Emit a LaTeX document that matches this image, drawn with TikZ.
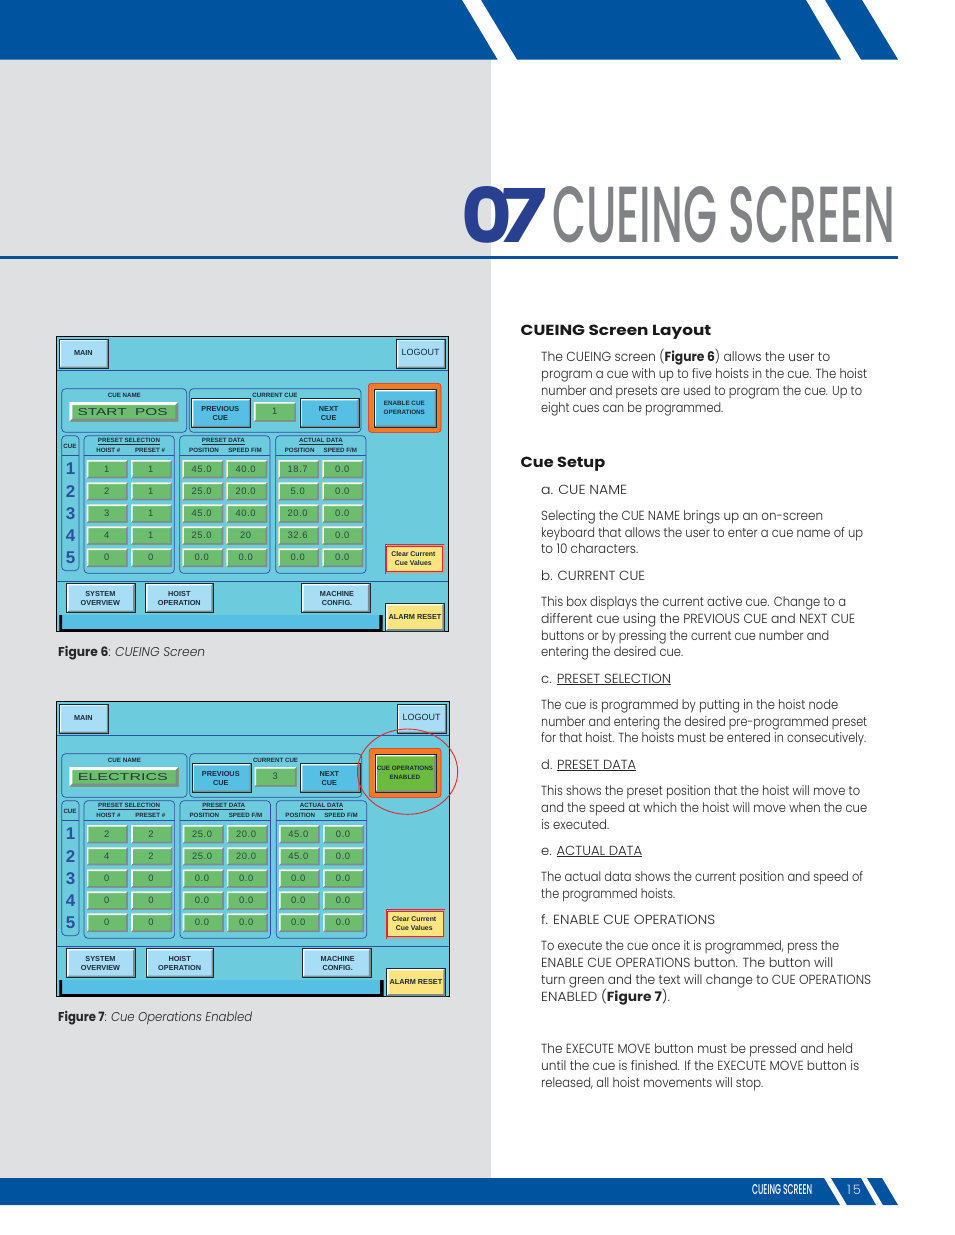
\documentclass[tikz,border=0pt]{standalone}
\usepackage{fontspec}
\usepackage{graphicx}
\setmainfont{Poppins}
\newfontfamily\bodyf{Poppins Light}
\newfontfamily\headf{Poppins Bold}
\newfontfamily\bigf{Poppins Medium}
\newfontfamily\blackf{Poppins Bold}
\newfontfamily\scrf{Liberation Sans}
\newfontfamily\scrl[LetterSpace=6]{Liberation Sans}
\definecolor{brand}{HTML}{00539F}
\definecolor{pagegrey}{HTML}{DFE0E2}
\definecolor{titlegrey}{HTML}{808285}
\definecolor{navy}{HTML}{28408F}
\definecolor{scrbg}{HTML}{6CCBDD}
\definecolor{scrline}{HTML}{2F4EA0}
\definecolor{pale}{HTML}{A8DEF5}
\definecolor{mid}{HTML}{56C0E4}
\definecolor{fieldg}{HTML}{6CBD6E}
\definecolor{onG}{HTML}{6BBB3F}
\definecolor{bevg}{HTML}{7F8C8C}
\definecolor{amber}{HTML}{FCE57F}
\definecolor{orangeb}{HTML}{F47B20}
\definecolor{redl}{HTML}{E8252E}
\definecolor{scrtext}{HTML}{1B2A38}
\newcounter{tl}
\newcommand\bl[3]{\stepcounter{tl}\node[bodyline] (line\arabic{tl}) at (541,#1+5) {\resizebox{\dimexpr #2pt-541pt\relax}{\height}{#3}};}
\newcommand\bev[6]{%
  \fill[#5] (#1,#2) rectangle (#3,#4);
  \fill[white] (#1,#2)--(#3,#2)--(#3-#6,#2+#6)--(#1+#6,#2+#6)--(#1+#6,#4-#6)--(#1,#4)--cycle;
  \fill[bevg] (#3,#4)--(#1,#4)--(#1+#6,#4-#6)--(#3-#6,#4-#6)--(#3-#6,#2+#6)--(#3,#2)--cycle;
}
\newcommand\btn[6]{% x1 y1 x2 y2 fill w (with outer dark edge)
  \bev{#1}{#2}{#3}{#4}{#5}{#6}
  \draw[scrtext,line width=.5pt] (#1,#2) rectangle (#3,#4);
}
\newcommand\screen[7]{% figure key, origin, xunit, name text, cue no, enable, cells
\begin{scope}[shift={#2},x=#3pt,y=-0.33333pt,name prefix=#1-]
  \fill[scrbg] (20,20) rectangle (1195,905);
  \draw[scrline,line width=1pt] (20,122)--(1195,122) (20,753)--(1195,753);
  \fill[mid] (28,855) rectangle (998,900);
  \fill[black] (28,855) rectangle (36,900) (988,855) rectangle (998,900) (28,897) rectangle (998,903);
  \draw[black,line width=.9pt] (20,20) rectangle (1195,905);
  % top buttons
  \btn{28}{27}{175}{115}{pale}{5}
  \node[btext] (main) at (100,68) {MAIN};
  \btn{1040}{27}{1187}{115}{pale}{5}
  \node[ltext] (logout) at (1112,67) {LOGOUT};
  % panels
  \draw[panel] (35,176) rectangle (410,307);
  \draw[panel] (418,176) rectangle (933,307);
  \draw[panel] (35,317) rectangle (87,722);
  \draw[panel] (102,317) rectangle (373,730);
  \draw[panel] (389,317) rectangle (660,730);
  \draw[panel] (677,317) rectangle (948,730);
  \draw[scrline,line width=.7pt] (35,377)--(87,377) (102,377)--(373,377) (389,377)--(660,377) (677,377)--(948,377);
  \node[stext] (cuename) at (223,195) {CUE NAME};
  \node[stext] (curcue) at (675,195) {CURRENT CUE};
  \node[stext] (cuehead) at (60,350) {CUE};
  \node[stext] (psel) at (237,335) {\underline{PRESET SELECTION}};
  \node[stext] (pdat) at (520,335) {\underline{PRESET DATA}};
  \node[stext] (adat) at (813,335) {\underline{ACTUAL DATA}};
  \node[stext] (h1) at (175,360) {HOIST \#};
  \node[stext] (h2) at (300,360) {PRESET \#};
  \node[stext] (h3) at (462,361) {POSITION};
  \node[stext] (h4) at (585,361) {SPEED F/M};
  \node[stext] (h5) at (749,361) {POSITION};
  \node[stext] (h6) at (871,361) {SPEED F/M};
  % name field
  \bev{58}{216}{385}{275}{fieldg}{9}
  \node[wtext] (namev) at (218,245) {\resizebox{90pt}{7pt}{#4}};
  % current cue
  \btn{425}{206}{602}{292}{mid}{5}
  \node[btext,align=center] (prev) at (511,250) {PREVIOUS\\CUE};
  \bev{612}{216}{738}{275}{fieldg}{5}
  \node[vtext] (curv) at (674,245) {#5};
  \btn{750}{206}{927}{292}{mid}{5}
  \node[btext,align=center] (next) at (836,250) {NEXT\\CUE};
  % enable button
  #6
  % cue numbers
  \foreach \yy/\dd in {417/1,485/2,550/3,617/4,684/5}
    \node[digit] (d\dd) at (62,\yy) {\dd};
  % data cells
  #7
  % clear
  \fill[bevg!70!white] (1005,643) rectangle (1184,733);
  \fill[white] (1005,643) rectangle (1012,726);
  \fill[amber] (1010,648) rectangle (1177,726);
  \draw[redl,line width=.6pt] (1005,643)--(1183,643) (1010,650) rectangle (1177,725) (1005,643)--(1005,733);
  \node[stextb,align=center] (clear) at (1090,687) {Clear Current\\Cue Values};
  % bottom buttons
  \btn{50}{760}{255}{848}{pale}{6}
  \node[btext,align=center] (sys) at (151,804) {SYSTEM\\OVERVIEW};
  \btn{287}{760}{490}{848}{pale}{6}
  \node[btext,align=center] (hoist) at (388,804) {HOIST\\OPERATION};
  \btn{755}{760}{960}{848}{pale}{6}
  \node[btext,align=center] (mach) at (861,806) {MACHINE\\CONFIG.};
  \btn{1007}{820}{1183}{903}{amber}{6}
  \node[btext] (alarm) at (1095,861) {ALARM RESET};
\end{scope}}
\newcommand\cellrow[8]{% y1 y2 then six values
  \bev{110}{#1}{233}{#2}{fieldg}{5}\node[vtext] (a#1) at (170,#1/2+#2/2) {#3};
  \bev{243}{#1}{366}{#2}{fieldg}{5}\node[vtext] (b#1) at (302,#1/2+#2/2) {#4};
  \bev{397}{#1}{520}{#2}{fieldg}{5}\node[vtext] (c#1) at (455,#1/2+#2/2) {#5};
  \bev{529}{#1}{652}{#2}{fieldg}{5}\node[vtext] (e#1) at (587,#1/2+#2/2) {#6};
  \bev{685}{#1}{807}{#2}{fieldg}{5}\node[vtext] (f#1) at (743,#1/2+#2/2) {#7};
  \bev{817}{#1}{940}{#2}{fieldg}{5}\node[vtext] (g#1) at (877,#1/2+#2/2) {#8};
}
\tikzset{
  bodyline/.style={anchor=base west,inner sep=0,font=\bodyf\fontsize{13.2}{14}\selectfont,text=black!85},
  headline/.style={anchor=base west,inner sep=0,font=\headf\fontsize{14.6}{16}\selectfont,text=black!90},
  capline/.style={anchor=base west,inner sep=0,font=\bodyf\fontsize{12.8}{14}\selectfont,text=black!85},
  panel/.style={draw=scrline,line width=.7pt,rounded corners=4pt},
  btext/.style={inner sep=0,font=\scrf\bfseries\fontsize{7.3}{9}\selectfont,text=scrtext},
  stext/.style={inner sep=0,font=\scrf\bfseries\fontsize{6.2}{7}\selectfont,text=scrtext},
  stextb/.style={inner sep=0,font=\scrf\bfseries\fontsize{6.9}{9}\selectfont,text=scrtext},
  ltext/.style={inner sep=0,font=\scrf\fontsize{9}{10}\selectfont,text=scrtext},
  vtext/.style={inner sep=0,font=\scrl\fontsize{9.4}{10}\selectfont,text=scrtext!80!fieldg},
  wtext/.style={inner sep=0,font=\scrf\fontsize{9.6}{10}\selectfont,text=scrtext!90!fieldg},
  digit/.style={inner sep=0,font=\scrf\bfseries\fontsize{17}{17}\selectfont,text=scrline},
}
\begin{document}
\begin{tikzpicture}[x=1pt,y=-1pt]
\useasboundingbox (0,0) rectangle (954,1235);
\fill[white] (0,0) rectangle (954,1235);
\fill[pagegrey] (0,59) rectangle (491,1179);
% top band
\fill[brand] (0,0)--(462,0)--(497.5,59.5)--(0,59.5)--cycle;
\fill[brand] (481,0)--(806,0)--(841,59.5)--(517,59.5)--cycle;
\fill[brand] (825,0)--(862,0)--(898,59.5)--(861,59.5)--cycle;
% title
\node[anchor=south west,inner sep=0,text=navy] (num0) at (461,244) {\resizebox{51pt}{57pt}{\blackf 0}};
\node[anchor=south west,inner sep=0,text=navy,xslant=0.1] (num7) at (496,243) {\resizebox{46pt}{54pt}{\blackf 7}};
\node[anchor=south west,inner sep=0,text=titlegrey] (title) at (552,243) {\resizebox{343pt}{56pt}{\bigf CUEING SCREEN}};
\fill[brand] (0,256) rectangle (898,259);
% footer band
\fill[brand] (0,1178)--(824,1178)--(840,1205)--(0,1205)--cycle;
\fill[brand] (831,1178)--(861,1178)--(876,1205)--(847,1205)--cycle;
\fill[brand] (867,1178)--(882,1178)--(898,1205)--(883,1205)--cycle;
\node[anchor=south west,inner sep=0,text=white] (foot) at (752,1195) {\resizebox{60pt}{10pt}{\bigf CUEING SCREEN}};
\node[inner sep=0,text=white!85!brand,font=\bodyf\fontsize{13}{14}\selectfont] (pg) at (854,1190) {1\,5};
% body text
\node[headline] (hd1) at (520.5,335) {\resizebox{190.5pt}{\height}{CUEING Screen Layout}};
\node[headline] (hd2) at (520.5,467) {\resizebox{84.5pt}{\height}{Cue Setup}};
\bl{356}{830}{The CUEING screen ({\headf Figure 6}) allows the user to}
\bl{373}{867}{program a cue with up to five hoists in the cue. The hoist}
\bl{390}{862}{number and presets are used to program the cue. Up to}
\bl{407}{723}{eight cues can be programmed.}
\bl{489}{627}{a. CUE NAME}
\bl{515}{823}{Selecting the CUE NAME brings up an on-screen}
\bl{532}{863}{keyboard that allows the user to enter a cue name of up}
\bl{548}{638}{to 10 characters.}
\bl{575}{645}{b. CURRENT CUE}
\bl{601}{846}{This box displays the current active cue. Change to a}
\bl{618}{855}{different cue using the PREVIOUS CUE and NEXT CUE}
\bl{635}{829}{buttons or by pressing the current cue number and}
\bl{651}{683}{entering the desired cue.}
\bl{678}{671}{c. \underline{PRESET SELECTION}}
\bl{704}{838}{The cue is programmed by putting in the hoist node}
\bl{721}{867}{number and entering the desired pre-programmed preset}
\bl{737}{866}{for that hoist. The hoists must be entered in consecutively.}
\bl{764}{636}{d. \underline{PRESET DATA}}
\bl{790}{860}{This shows the preset position that the hoist will move to}
\bl{807}{867}{and the speed at which the hoist will move when the cue}
\bl{824}{609}{is executed.}
\bl{850}{642}{e. \underline{ACTUAL DATA}}
\bl{876}{863}{The actual data shows the current position and speed of}
\bl{893}{675}{the programmed hoists.}
\bl{919}{715}{f. ENABLE CUE OPERATIONS}
\bl{945}{839}{To execute the cue once it is programmed, press the}
\bl{962}{833}{ENABLE CUE OPERATIONS button. The button will}
\bl{979}{871}{turn green and the text will change to CUE OPERATIONS}
\bl{996}{670}{ENABLED ({\headf Figure 7}).}
\bl{1048}{853}{The EXECUTE MOVE button must be pressed and held}
\bl{1065}{859}{until the cue is finished. If the EXECUTE MOVE button is}
\bl{1082}{763}{released, all hoist movements will stop.}
\node[capline] (cap6) at (58,656) {\resizebox{147pt}{\height}{{\headf Figure 6}: {\itshape CUEING Screen}}};
\node[capline] (cap7) at (58,1021) {\resizebox{194pt}{\height}{{\headf Figure 7}: {\itshape Cue Operations Enabled}}};
% screens
\screen{f6}{(50,330)}{0.33333}{START~~POS}{1}{%
  \fill[orangeb,draw=redl,line width=.6pt,rounded corners=3pt] (955,160) rectangle (1173,307);
  \btn{972}{178}{1160}{292}{mid}{6}
  \node[stext,align=center,font=\scrf\bfseries\fontsize{6.3}{8.4}\selectfont] (enable) at (1063,233) {ENABLE CUE\\OPERATIONS};
}{%
  \cellrow{390}{445}{1}{1}{45.0}{40.0}{18.7}{0.0}
  \cellrow{457}{511}{2}{1}{25.0}{20.0}{5.0}{0.0}
  \cellrow{523}{578}{3}{1}{45.0}{40.0}{20.0}{0.0}
  \cellrow{589}{644}{4}{1}{25.0}{20}{32.6}{0.0}
  \cellrow{655}{711}{0}{0}{0.0}{0.0}{0.0}{0.0}
}
\screen{f7}{(50,695)}{0.33417}{ELECTRICS}{3}{%
  \fill[orangeb,draw=redl,line width=.6pt,rounded corners=3pt] (955,160) rectangle (1170,307);
  \btn{972}{178}{1155}{292}{onG}{6}
  \node[stext,align=center,font=\scrf\bfseries\fontsize{6.3}{8.4}\selectfont] (enabled) at (1062,233) {CUE OPERATIONS\\ENABLED};
  \draw[redl,line width=.9pt] (1070,230) ellipse [x radius=150,y radius=128];
}{%
  \cellrow{390}{445}{2}{2}{25.0}{20.0}{45.0}{0.0}
  \cellrow{457}{511}{4}{2}{25.0}{20.0}{45.0}{0.0}
  \cellrow{523}{578}{0}{0}{0.0}{0.0}{0.0}{0.0}
  \cellrow{589}{644}{0}{0}{0.0}{0.0}{0.0}{0.0}
  \cellrow{655}{711}{0}{0}{0.0}{0.0}{0.0}{0.0}
}
\end{tikzpicture}
\end{document}
